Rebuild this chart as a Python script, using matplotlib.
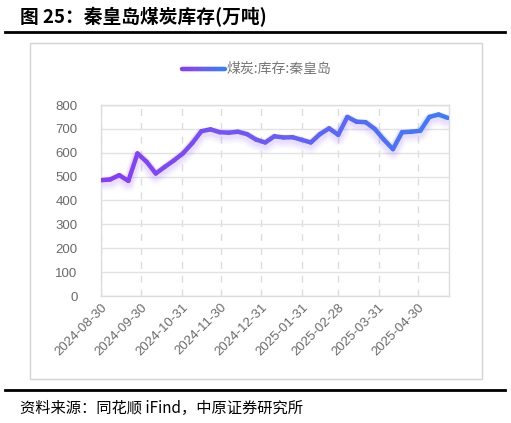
import numpy as np
import pandas as pd
import matplotlib
matplotlib.use("Agg")
import matplotlib.pyplot as plt
import matplotlib.dates as mdates
import matplotlib.transforms as mtransforms
from matplotlib.collections import LineCollection
from matplotlib.colors import LinearSegmentedColormap
from matplotlib.patches import Rectangle
from matplotlib.lines import Line2D

plt.rcParams['font.family'] = ['Noto Sans CJK SC', 'DejaVu Sans']

# weekly stock of coal at Qinhuangdao port (10k tonnes)
dates = pd.date_range("2024-08-30", periods=39, freq="7D")
stock = [485, 488, 506, 482, 597, 562, 513, 541, 568, 598,
         640, 690, 698, 686, 684, 688, 678, 655, 643, 669,
         664, 665, 654, 643, 678, 702, 675, 750, 730, 728,
         700, 655, 615, 686, 688, 692, 750, 760, 746]
tick_dates = ["2024-08-30", "2024-09-30", "2024-10-31", "2024-11-30", "2024-12-31",
              "2025-01-31", "2025-02-28", "2025-03-31", "2025-04-30"]
series_name = "煤炭:库存:秦皇岛"

W, H = 511, 423
fig = plt.figure(figsize=(W / 100, H / 100), dpi=100)

# header / footer
fig.text(20 / W, 1 - 17 / H, "图 25：秦皇岛煤炭库存(万吨)", fontsize=13.5, fontweight="bold",
         va="center", ha="left", color="black")
fig.add_artist(Line2D([5 / W, 505 / W], [1 - 32 / H, 1 - 32 / H], color="black", lw=2))
fig.add_artist(Line2D([5 / W, 505 / W], [1 - 390 / H, 1 - 390 / H], color="black", lw=2))
fig.text(20 / W, 1 - 408 / H, "资料来源：同花顺 iFind，中原证券研究所", fontsize=11,
         va="center", ha="left", color="black")
fig.add_artist(Rectangle((30 / W, 1 - 379 / H), 452 / W, 336 / H, fill=False,
                         edgecolor="#d4d4d4", lw=1, transform=fig.transFigure))

ax = fig.add_axes([101 / W, 127 / H, 348 / W, 191 / H])
x = mdates.date2num(dates)
y = np.array(stock, dtype=float)

cmap = LinearSegmentedColormap.from_list("pb", ["#8a3cf6", "#6a5cf8", "#3b7cfb"])
pts = np.column_stack([x, y]).reshape(-1, 1, 2)
segs = np.concatenate([pts[:-1], pts[1:]], axis=1)
cvals = np.linspace(0, 1, len(segs))

# soft glow below the line
for lw, a, dy in [(10, 0.06, -4), (8, 0.08, -3), (6, 0.10, -2)]:
    off = mtransforms.offset_copy(ax.transData, fig=fig, x=0, y=dy, units="dots")
    ax.plot(x, y, color="#9b6cff", lw=lw, alpha=a, transform=off,
            solid_capstyle="round", solid_joinstyle="round", zorder=2)

lc = LineCollection(segs, cmap=cmap, linewidths=3.2, capstyle="round", joinstyle="round", zorder=3)
lc.set_array(cvals)
ax.add_collection(lc)

tick_font = {"family": ["Liberation Sans", "DejaVu Sans"], "size": 9.5}
ax.set_xlim(x[0], x[-1] + 1)
ax.set_ylim(0, 800)
ax.set_yticks(range(0, 801, 100))
ax.set_xticks(mdates.date2num(pd.to_datetime(tick_dates)))
ax.xaxis.set_major_formatter(mdates.DateFormatter("%Y-%m-%d"))
ax.tick_params(axis="both", length=0, colors="#6a6a6a")
ax.tick_params(axis="y", pad=17)
ax.tick_params(axis="x", pad=4)
for lab in ax.get_yticklabels():
    lab.set_fontproperties(tick_font)
for lab in ax.get_xticklabels():
    lab.set_fontproperties(tick_font)
    lab.set_rotation(45)
    lab.set_ha("right")
    lab.set_rotation_mode("anchor")
ax.grid(axis="y", color="#e2e2e2", lw=1)
ax.grid(axis="x", color="#dcdcdc", lw=1, ls=(0, (5, 5)))
ax.set_axisbelow(True)
for s in ax.spines.values():
    s.set_color("#dcdcdc")
    s.set_linewidth(1)

# legend
lx0, lx1, ly = 182 / W, 225 / W, 1 - 69 / H
lxs = np.linspace(lx0, lx1, 20)
lpts = np.column_stack([lxs, np.full_like(lxs, ly)]).reshape(-1, 1, 2)
lsegs = np.concatenate([lpts[:-1], lpts[1:]], axis=1)
llc = LineCollection(lsegs, cmap=cmap, linewidths=3.2, capstyle="round", transform=fig.transFigure)
llc.set_array(np.linspace(0, 1, len(lsegs)))
fig.add_artist(llc)
fig.text(227 / W, ly, series_name, fontsize=10, color="#777777", va="center", ha="left")

fig.savefig("out.png", dpi=100)
